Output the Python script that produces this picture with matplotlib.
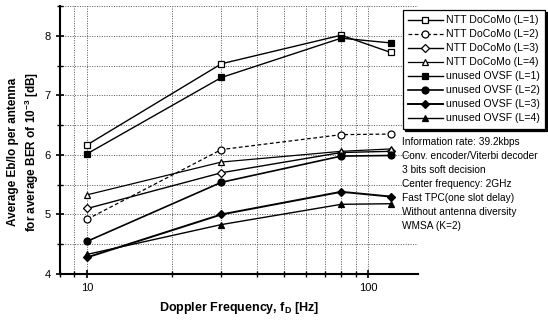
import matplotlib
matplotlib.use("Agg")
import matplotlib.pyplot as plt
from matplotlib.ticker import FixedLocator, NullFormatter

plt.rcParams['font.family'] = ['Liberation Sans', 'DejaVu Sans']
plt.rcParams['mathtext.fontset'] = 'custom'
plt.rcParams['mathtext.rm'] = 'Liberation Sans'
plt.rcParams['mathtext.bf'] = 'Liberation Sans:bold'

# Doppler frequencies [Hz]
doppler = [10, 30, 80, 120]

# Required average Eb/Io per antenna [dB]
ntt_l1 = [6.17, 7.53, 8.01, 7.72]
ntt_l2 = [4.92, 6.09, 6.34, 6.35]
ntt_l3 = [5.10, 5.70, 6.04, 6.06]
ntt_l4 = [5.33, 5.88, 6.06, 6.10]
ovsf_l1 = [6.02, 7.30, 7.96, 7.88]
ovsf_l2 = [4.55, 5.54, 5.98, 5.99]
ovsf_l3 = [4.28, 5.00, 5.38, 5.30]
ovsf_l4 = [4.33, 4.83, 5.17, 5.18]

labels = ["NTT DoCoMo (L=1)", "NTT DoCoMo (L=2)", "NTT DoCoMo (L=3)",
          "NTT DoCoMo (L=4)", "unused OVSF (L=1)", "unused OVSF (L=2)",
          "unused OVSF (L=3)", "unused OVSF (L=4)"]

notes = ["Information rate: 39.2kbps",
         "Conv. encoder/Viterbi decoder",
         "3 bits soft decision",
         "Center frequency: 2GHz",
         "Fast TPC(one slot delay)",
         "Without antenna diversity",
         "WMSA (K=2)"]

series = [ntt_l1, ntt_l2, ntt_l3, ntt_l4, ovsf_l1, ovsf_l2, ovsf_l3, ovsf_l4]
markers = ['s', 'o', 'D', '^', 's', 'o', 'D', '^']
msizes = [4.8, 5, 4.2, 5, 4.8, 5, 4.2, 5]
faces = ['white'] * 4 + ['black'] * 4
styles = ['-', (0, (3, 2)), '-', '-', '-', '-', '-', '-']
widths = [1.0, 0.9, 1.0, 0.9, 1.0, 1.2, 1.4, 1.0]

fig = plt.figure(figsize=(5.48, 3.23), dpi=100)
ax = fig.add_axes([60 / 548, 1 - 274 / 323, (418 - 60) / 548, (274 - 6) / 323])

handles = []
for vals, mk, ms, fc, ls, lw, lab in zip(series, markers, msizes, faces, styles, widths, labels):
    h, = ax.plot(doppler, vals, color='black', linestyle=ls, linewidth=lw,
                 marker=mk, markersize=ms, markerfacecolor=fc,
                 markeredgecolor='black', markeredgewidth=0.9, label=lab,
                 zorder=3)
    handles.append(h)

ax.set_xscale('log')
ax.set_xlim(8, 150)
ax.set_ylim(4, 8.5)
ax.set_yticks([4, 5, 6, 7, 8])
ax.yaxis.set_minor_locator(FixedLocator([4.5, 5.5, 6.5, 7.5, 8.5]))
ax.set_xticks([10, 100])
ax.set_xticklabels(['10', '100'])
ax.xaxis.set_minor_locator(FixedLocator([8, 9, 20, 30, 40, 50, 60, 70, 80, 90]))
ax.xaxis.set_minor_formatter(NullFormatter())

ax.grid(True, which='both', linestyle=(0, (1, 1.5)), color='#555555', linewidth=0.7)
for s in ['top', 'right']:
    ax.spines[s].set_visible(False)
for s in ['left', 'bottom']:
    ax.spines[s].set_linewidth(1.5)

ax.tick_params(which='major', direction='inout', length=6, width=1.2, labelsize=8)
ax.tick_params(which='minor', direction='inout', length=4, width=1.0)

ax.set_xlabel(r"Doppler Frequency, f$_\mathbf{D}$ [Hz]", fontsize=9, fontweight='bold',
              labelpad=5)
fig.text(24 / 548, 1 - 152 / 323,
         "Average Eb/Io per antenna\n" r"for average BER of 10$^{\mathbf{-3}}$ [dB]",
         rotation=90, ha='center', va='center', multialignment='center',
         fontsize=8.5, fontweight='bold', linespacing=1.35)

leg = fig.legend(handles=handles, loc='upper right',
                 bbox_to_anchor=(545 / 548, 1 - 10 / 323),
                 fontsize=7.6, frameon=True, fancybox=False,
                 shadow={'color': 'black', 'alpha': 1, 'ox': 1.5, 'oy': -1.5},
                 handlelength=3.3, handletextpad=0.3, labelspacing=0.38,
                 borderpad=0.5, borderaxespad=0)
leg.get_frame().set_edgecolor('black')
leg.get_frame().set_linewidth(0.9)
leg.get_frame().set_alpha(1)

for i, line in enumerate(notes):
    fig.text(402 / 548, 1 - (142 + 14 * i) / 323, line, fontsize=7.3,
             ha='left', va='center')

fig.savefig("out.png", dpi=100)
